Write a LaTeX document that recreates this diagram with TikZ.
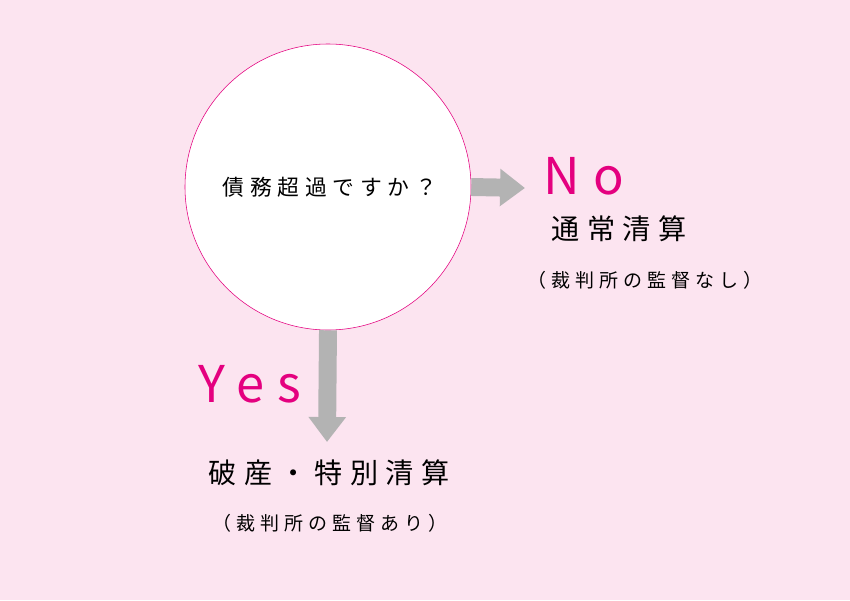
\documentclass[tikz,border=0pt]{standalone}
\usepackage{fontspec}
\newfontfamily\jp{Noto Sans CJK JP}
\newfontfamily\jpwide[LetterSpace=26]{Noto Sans CJK JP}
\usetikzlibrary{arrows.meta}
\definecolor{bgpink}{HTML}{FCE4F0}
\definecolor{mag}{HTML}{E4007F}
\definecolor{arrgray}{HTML}{B3B3B3}
\tikzset{
  blockarrow/.style={arrgray,line width=18*0.709pt,-{Triangle[length=25*0.709pt,width=36*0.709pt]}},
  answer/.style={text=mag,font=\jpwide\fontsize{36}{40}\selectfont},
  result/.style={font=\jpwide\fontsize{20}{24}\selectfont},
  note/.style={font=\jpwide\fontsize{13.5}{16}\selectfont}
}
\begin{document}
\begin{tikzpicture}[x=0.025cm,y=-0.025cm]
  \fill[bgpink] (0,0) rectangle (850,600);
  \node[draw=mag,fill=white,circle,minimum size=286*0.025cm,inner sep=0pt,
        font=\jpwide\fontsize{15.5}{18}\selectfont] (q) at (328,187) {};
  \node[font=\jpwide\fontsize{15.5}{18}\selectfont] (qtext) at (330,187) {債務超過ですか？};
  \coordinate (noend) at (525,188);
  \coordinate (yesend) at (327,442);
  \draw[blockarrow] (q.east) -- (noend);
  \draw[blockarrow] (q.south) -- (yesend);
  \node[answer] (no) at (584,176) {No};
  \node[result] (nores) at (619,229) {通常清算};
  \node[note] (nonote) at (645,280) {（裁判所の監督なし）};
  \node[answer] (yes) at (250,384) {Yes};
  \node[result] (yesres) at (329,473) {破産・特別清算};
  \node[note] (yesnote) at (330,523) {（裁判所の監督あり）};
\end{tikzpicture}
\end{document}
